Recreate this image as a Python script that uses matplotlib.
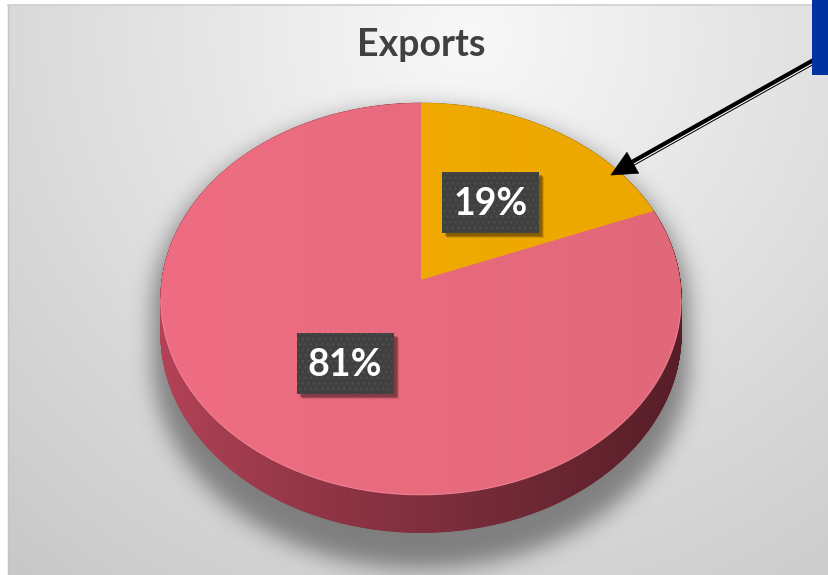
import numpy as np
import matplotlib
matplotlib.use("Agg")
import matplotlib.pyplot as plt
from matplotlib.patches import Polygon, Rectangle
from matplotlib.collections import PolyCollection
from matplotlib.path import Path
from matplotlib.colors import to_rgb

# ---- data ----
title = "Exports"
shares = [19, 81]
top_colors = [("#f3ad05", "#eca700"), ("#ef6d82", "#e16879")]
side_colors = [("#d08a00", "#8a5a00"), ("#b44257", "#561e28")]
label_texts = [f"{s}%" for s in shares]

# ---- canvas ----
W, H = 829, 575
fig = plt.figure(figsize=(W / 100, H / 100), dpi=100, facecolor="white")
ax = fig.add_axes([0, 0, 1, 1])
ax.set_xlim(0, W)
ax.set_ylim(H, 0)
ax.axis("off")

# radial grey background inside the chart frame
FX0, FY0 = 8, 5
yy, xx = np.mgrid[FY0:H, FX0:W] + 0.5
dist = np.hypot(xx - 470, yy - 35)
g = np.clip(0.975 - 0.27 * dist / 1000, 0, 1)
ax.imshow(np.dstack([g, g, g]), extent=[FX0, W, H, FY0], aspect="auto",
          zorder=0, interpolation="bilinear")
ax.plot([FX0, FX0], [FY0, H], color="#c4c4c4", lw=1.0, zorder=1)
ax.plot([FX0, W], [FY0, FY0], color="#cfcfcf", lw=1.2, zorder=1)

# ---- 3-D pie geometry (perspective-tilted disc) ----
CX, CY, A, B, K, DEPTH = 421, 280, 259, 194, 0.097, 34


def project(theta, r=1.0, drop=0.0):
    u = r * np.sin(theta)
    v = r * np.cos(theta)
    s = 1.0 / (1 + K * v)
    return CX + A * u * s, CY - B * v * s + drop * s


total = float(sum(shares))
bounds = np.concatenate([[0], np.cumsum(shares)]) / total * 2 * np.pi

# soft drop shadow under the pie
def blur(img, sigma):
    r = int(3 * sigma)
    x = np.arange(-r, r + 1)
    k = np.exp(-x ** 2 / (2 * sigma ** 2))
    k /= k.sum()
    img = np.apply_along_axis(lambda m: np.convolve(m, k, mode="same"), 0, img)
    img = np.apply_along_axis(lambda m: np.convolve(m, k, mode="same"), 1, img)
    return img

gy, gx = np.mgrid[0:H, 0:W] + 0.5
pts = np.column_stack([gx.ravel(), gy.ravel()])
th = np.linspace(0, 2 * np.pi, 240)
mask = np.zeros(H * W, dtype=bool)
for dr in np.arange(0, DEPTH + 16, 4):
    ex, ey = project(th, 1.03, dr + 12)
    mask |= Path(np.column_stack([ex, ey])).contains_points(pts)
mask = blur(mask.reshape(H, W).astype(float), 11)
shadow = np.zeros((H, W, 4))
shadow[..., :3] = 0.22
shadow[..., 3] = 0.55 * mask
ax.imshow(shadow, extent=[0, W, H, 0], aspect="auto", zorder=2)

# outer side wall, drawn far-to-near
thetas = np.linspace(0, 2 * np.pi, 1081)
quads, qcols, depth_key = [], [], []
for t0, t1 in zip(thetas[:-1], thetas[1:]):
    tm = 0.5 * (t0 + t1)
    idx = int(np.searchsorted(bounds, tm, side="right") - 1)
    idx = min(max(idx, 0), len(shares) - 1)
    x0, y0 = project(t0)
    x1, y1 = project(t1)
    x2, y2 = project(t1, drop=DEPTH)
    x3, y3 = project(t0, drop=DEPTH)
    quads.append([(x0, y0), (x1, y1), (x2, y2), (x3, y3)])
    tt = np.clip(((x0 + x1) / 2 - (CX - A)) / (2 * A), 0, 1) ** 0.85
    cl, cr = (np.array(to_rgb(c)) for c in side_colors[idx])
    qcols.append(tuple(cl + (cr - cl) * tt))
    depth_key.append(np.cos(tm))
order = np.argsort(depth_key)[::-1]
pc = PolyCollection([quads[i] for i in order],
                    facecolors=[qcols[i] for i in order],
                    edgecolors=[qcols[i] for i in order],
                    linewidths=0.6, zorder=3)
ax.add_collection(pc)

# top face slices with a gentle horizontal shading
for i in range(len(shares)):
    arc = np.linspace(bounds[i], bounds[i + 1], 200)
    ax_, ay_ = project(arc)
    verts = np.column_stack([np.r_[CX, ax_], np.r_[CY, ay_]])
    cl, cr = (np.array(to_rgb(c)) for c in top_colors[i])
    poly = Polygon(verts, closed=True, facecolor=tuple(cl), edgecolor="none",
                   zorder=4)
    ax.add_patch(poly)
    grad = np.linspace(0, 1, 256)[None, :, None]
    img = cl[None, None, :] + (cr - cl)[None, None, :] * grad
    im = ax.imshow(img, extent=[CX - A - 5, CX + A + 5, CY + 1.2 * B, CY - 1.2 * B],
                   aspect="auto", zorder=4.5, interpolation="bilinear")
    im.set_clip_path(poly)

# light rim along the front edge of the top face
rim = np.linspace(np.pi / 2 + 0.1, 3 * np.pi / 2 - 0.1, 200)
rx, ry = project(rim)
ax.plot(rx, ry, color="#f58c9c", lw=0.8, alpha=0.7, zorder=5)

# data labels in dark boxes
BW, BH = 97, 61
for i, txt in enumerate(label_texts):
    mid = 0.5 * (bounds[i] + bounds[i + 1])
    lx, ly = project(mid, r=0.5)
    for off, al in [(5, 0.12), (4, 0.18), (3, 0.22)]:
        ax.add_patch(Rectangle((lx - BW / 2 + off, ly - BH / 2 + off), BW, BH,
                               facecolor="black", alpha=al, edgecolor="none",
                               zorder=6))
    ax.add_patch(Rectangle((lx - BW / 2, ly - BH / 2), BW, BH,
                           facecolor="#404040", edgecolor="#4e4e4e",
                           hatch="...", linewidth=0, zorder=7))
    ax.text(lx, ly + 1, txt, ha="center", va="center", color="white",
            fontsize=27, fontweight="bold", family="Lato", zorder=8)

# title
ax.text(421, 45, title, ha="center", va="center", fontsize=27,
        fontweight="bold", color="#404040", family="Lato", zorder=8)

# callout arrow
tip = np.array([611.0, 175.0])
direc = np.array([219.0, -123.0])
direc /= np.hypot(*direc)
perp = np.array([direc[1] * -1, direc[0]])
if perp[1] < 0:
    perp = -perp
head_len, head_half = 25, 12
base = tip + direc * head_len
tail = tip + direc * 260
ax.plot([base[0], tail[0]], [base[1], tail[1]], color="black", lw=4.6,
        solid_capstyle="butt", zorder=9)
wl0, wl1 = base + perp * 1.6, tail + perp * 1.6
ax.plot([wl0[0], wl1[0]], [wl0[1], wl1[1]], color="white", lw=0.8,
        solid_capstyle="butt", zorder=9.5)
head = np.array([tip, base + perp * head_half, base - perp * head_half])
ax.add_patch(Polygon(head, closed=True, facecolor="black", edgecolor="black",
                     lw=0.5, zorder=10))

# blue tab in the corner
ax.add_patch(Rectangle((812, -2), 30, 77, facecolor="#0033a0",
                       edgecolor="none", zorder=11))

ax.set_xlim(0, W)
ax.set_ylim(H, 0)
fig.savefig("out.png", dpi=100, facecolor="white")
